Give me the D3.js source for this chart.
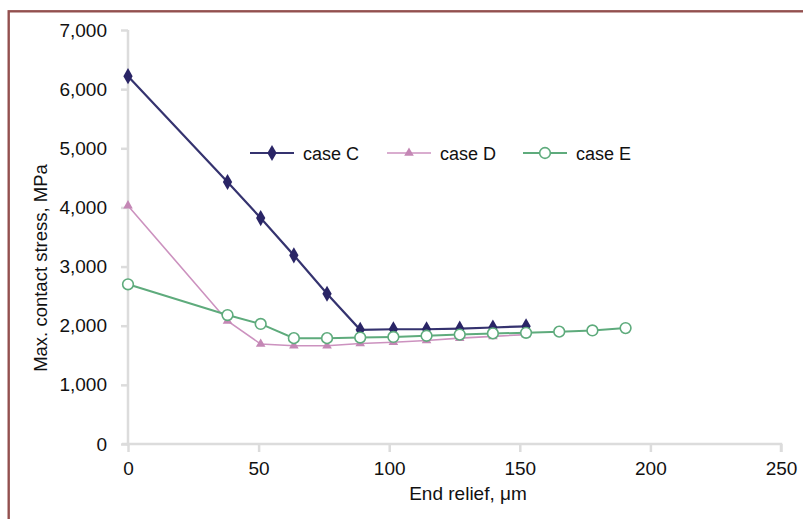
<!DOCTYPE html>
<html>
<head>
<meta charset="utf-8">
<script src="https://cdn.jsdelivr.net/npm/d3@7"></script>
<style>
  body { margin: 0; background: #fff; }
  text { font-family: "Liberation Sans", Arial, sans-serif; fill: #111; }
</style>
</head>
<body>
<div id="canvas"></div>
<script>
"use strict"

/* chart data */
let endRelief = [0, 38.1, 50.8, 63.5, 76.2, 88.9, 101.6, 114.3, 127, 139.7, 152.4, 165.1, 177.8, 190.5];
let caseC = [6220, 4430, 3820, 3190, 2540, 1930, 1940, 1940, 1950, 1970, 1990];
let caseD = [4030, 2080, 1690, 1660, 1660, 1700, 1720, 1750, 1790, 1820, 1850];
let caseE = [2700, 2180, 2030, 1790, 1790, 1800, 1810, 1830, 1850, 1870, 1880, 1900, 1920, 1960];
let seriesNames = ["case C", "case D", "case E"];
let xTicks = [0, 50, 100, 150, 200, 250];
let yTicks = [0, 1000, 2000, 3000, 4000, 5000, 6000, 7000];

let drawing = d3.select("#canvas")
    .append("svg")
    .attr("width", 803)
    .attr("height", 519);

/* frame around the figure (runs off the right and bottom edge) */
let frame = drawing.append("rect")
    .attr("x", 8.7)
    .attr("y", 11.3)
    .attr("width", 900)
    .attr("height", 600)
    .attr("fill", "none")
    .attr("stroke", "#93504f")
    .attr("stroke-width", 2.4);

let x = d3.scaleLinear().domain([0, 250]).range([128, 781]);
let y = d3.scaleLinear().domain([0, 7000]).range([444, 30]);

/* axes */
let xAxis = drawing.append("g")
    .attr("transform", "translate(0,444)")
    .call(d3.axisBottom(x).tickValues(xTicks).tickSize(8).tickPadding(10));

let yAxis = drawing.append("g")
    .attr("transform", "translate(128,0)")
    .call(d3.axisLeft(y).tickValues(yTicks).tickSize(7).tickPadding(14)
        .tickFormat(d3.format(",")));

drawing.selectAll(".domain, .tick line")
    .attr("stroke", "#dcdcdc")
    .attr("stroke-width", 2.5);
drawing.selectAll(".tick text")
    .style("font-size", "19px")
    .style("font-family", "'Liberation Sans', Arial, sans-serif")
    .attr("fill", "#111");
yAxis.select(".domain").attr("d", "M0," + y(7000) + "V" + (y(0) + 2));
xAxis.select(".domain").attr("d", "M" + (x(0) - 6) + ",0H" + x(250) + "V8");

/* axis titles */
let xTitle = drawing.append("text")
    .attr("x", 468)
    .attr("y", 500)
    .attr("text-anchor", "middle")
    .style("font-size", "19px")
    .text("End relief, \u03bcm");

let yTitle = drawing.append("text")
    .attr("transform", "translate(47,268) rotate(-90)")
    .attr("text-anchor", "middle")
    .style("font-size", "18.5px")
    .text("Max. contact stress, MPa");

/* series */
let styles = [
    { values: caseC, color: "#35336f", width: 2.2, marker: d3.symbolDiamond, size: 75, fill: "#2a2566" },
    { values: caseD, color: "#cc92bf", width: 1.6, marker: d3.symbolTriangle, size: 40, fill: "#c487b5" },
    { values: caseE, color: "#5eab7c", width: 2, marker: d3.symbolCircle, size: 90, fill: "#fff" }
];

let line = d3.line()
    .x(d => x(d[0]))
    .y(d => y(d[1]));

styles.forEach(function (s) {
    let pts = s.values.map((v, i) => [endRelief[i], v]);
    drawing.append("path")
        .datum(pts)
        .attr("d", line)
        .attr("fill", "none")
        .attr("stroke", s.color)
        .attr("stroke-width", s.width);
    drawing.selectAll(null)
        .data(pts)
        .enter()
        .append("path")
        .attr("transform", d => "translate(" + x(d[0]) + "," + y(d[1]) + ")")
        .attr("d", d3.symbol().type(s.marker).size(s.size))
        .attr("fill", s.fill)
        .attr("stroke", s.marker === d3.symbolCircle ? s.color : "none")
        .attr("stroke-width", 1.6);
});

/* legend */
let legendX = [250, 387, 523];
styles.forEach(function (s, i) {
    let g = drawing.append("g").attr("transform", "translate(" + legendX[i] + ",153)");
    g.append("line")
        .attr("x1", 0).attr("x2", 44)
        .attr("y1", 0).attr("y2", 0)
        .attr("stroke", s.color)
        .attr("stroke-width", s.width);
    g.append("path")
        .attr("transform", "translate(22,0)")
        .attr("d", d3.symbol().type(s.marker).size(s.size))
        .attr("fill", s.fill)
        .attr("stroke", s.marker === d3.symbolCircle ? s.color : "none")
        .attr("stroke-width", 1.6);
    g.append("text")
        .attr("x", 53)
        .attr("y", 6.5)
        .style("font-size", "18px")
        .text(seriesNames[i]);
});
</script>
</body>
</html>
